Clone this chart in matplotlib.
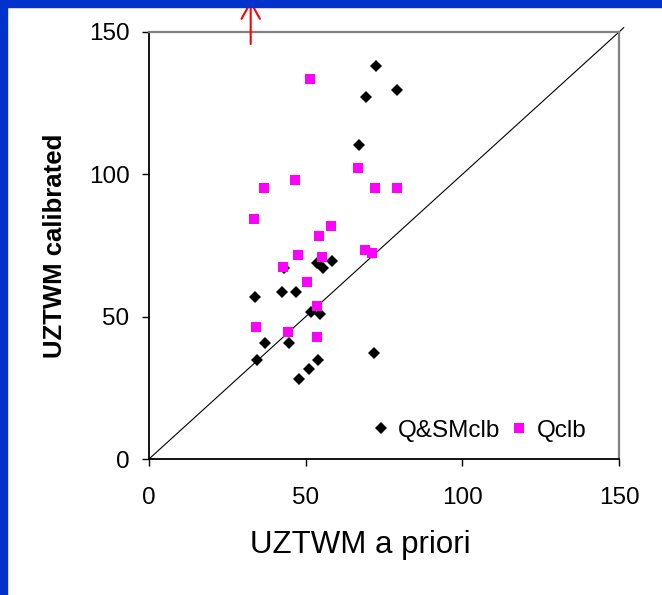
import matplotlib.pyplot as plt
import matplotlib.patches as patches

plt.rcParams['font.family'] = ['Liberation Sans', 'DejaVu Sans']

# UZTWM a priori vs calibrated
qsm_prior = [72.4, 79.3, 69.4, 66.9, 43.1, 53.6, 55.4, 58.5, 33.8, 42.4,
             47.0, 51.6, 54.7, 37.0, 44.7, 34.6, 54.0, 51.0, 47.9, 71.7]
qsm_calib = [138.2, 129.6, 127.2, 110.2, 67.0, 68.7, 67.0, 69.4, 56.8, 58.6,
             58.6, 51.8, 50.8, 40.6, 40.6, 34.8, 34.8, 31.5, 28.0, 37.3]

q_prior = [51.3, 66.6, 46.6, 36.6, 72.0, 79.1, 33.5, 58.1, 54.4, 68.9,
           71.3, 47.4, 55.1, 42.8, 50.4, 53.6, 34.2, 44.4, 53.6]
q_calib = [133.5, 102.1, 98.0, 95.3, 95.3, 95.3, 84.3, 81.9, 78.4, 73.4,
           72.5, 71.7, 70.9, 67.4, 62.3, 53.9, 46.3, 44.6, 42.9]

ticks = [0, 50, 100, 150]

fig = plt.figure(figsize=(6.62, 5.95), dpi=100)
ax = fig.add_axes([149 / 662, 136 / 595, 470 / 662, 427 / 595])

# 1:1 line
ax.plot([0, 151.5], [0, 151.5], color='black', lw=0.8, clip_on=False, zorder=1)

ax.plot(qsm_prior, qsm_calib, linestyle='none', marker='D', markersize=6.6,
        color='black', markeredgewidth=0, label='Q&SMclb', zorder=3)
ax.plot(q_prior, q_calib, linestyle='none', marker='s', markersize=7.2,
        color='#ff00ff', markeredgewidth=0, label='Qclb', zorder=4)

ax.set_xlim(0, 150)
ax.set_ylim(0, 150)
ax.set_xticks(ticks)
ax.set_yticks(ticks)
ax.tick_params(axis='x', direction='out', length=5, width=1, pad=15, labelsize=17.5)
ax.tick_params(axis='y', direction='out', length=5, width=1, pad=9, labelsize=17.5)

for side in ['left', 'bottom']:
    ax.spines[side].set_color('black')
    ax.spines[side].set_linewidth(1.3)
for side in ['top', 'right']:
    ax.spines[side].set_color('#808080')
    ax.spines[side].set_linewidth(1.6)

ax.set_xlabel('UZTWM a priori', fontsize=22.5, va='center')
ax.xaxis.set_label_coords((360 - 149) / 470, (459 - 545) / 427)
ax.set_ylabel('UZTWM calibrated', fontsize=18.5, fontweight='bold', va='center')
ax.yaxis.set_label_coords((55 - 149) / 470, 0.5)

ax.legend(loc='center', bbox_to_anchor=(0.701, 0.066), ncol=2, frameon=False,
          fontsize=17.5, handlelength=0.8, handletextpad=0.3, columnspacing=0.4,
          borderpad=0, borderaxespad=0)

# slide border and pointer arrow
fig.patches.append(patches.Rectangle((0, 0), 7 / 662, 1, transform=fig.transFigure,
                                     color='#0033cc', zorder=10))
fig.patches.append(patches.Rectangle((0, 1 - 7 / 595), 1, 7 / 595, transform=fig.transFigure,
                                     color='#0033cc', zorder=10))
ax.annotate('', xy=(250.7 / 662, 1.0), xycoords='figure fraction',
            xytext=(250.7 / 662, 1 - 44 / 595), textcoords='figure fraction',
            arrowprops=dict(arrowstyle='->,head_length=1.0,head_width=0.55',
                            color='red', lw=1.5, mutation_scale=12,
                            shrinkA=0, shrinkB=0),
            annotation_clip=False, zorder=11)

fig.savefig('out.png', dpi=100)
